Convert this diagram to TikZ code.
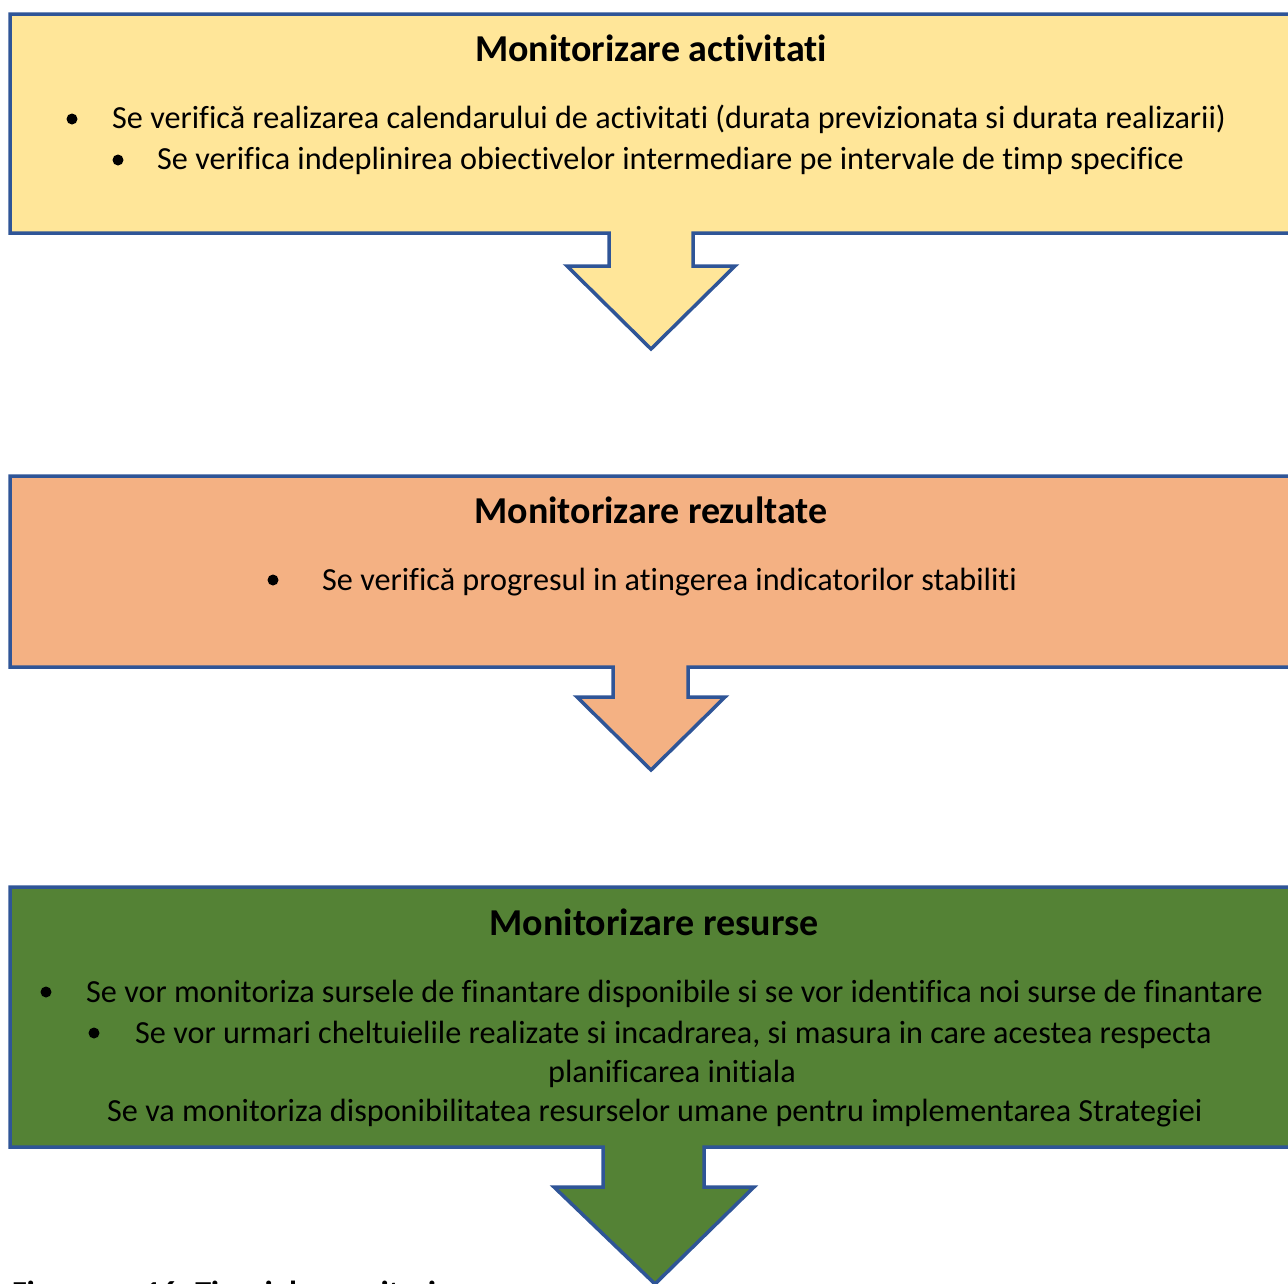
\documentclass[tikz,border=0pt]{standalone}
\usepackage{fontspec}
\setmainfont{Carlito}[Ligatures=NoCommon]
\definecolor{edge}{HTML}{2F5597}
\definecolor{yel}{HTML}{FFE699}
\definecolor{sal}{HTML}{F4B183}
\definecolor{grn}{HTML}{548235}
\begin{document}
\begin{tikzpicture}[x=1pt,y=-1pt,
  panel/.style={draw=edge,line width=3.5pt,line join=miter},
  ttl/.style={anchor=base,inner sep=0pt,font=\fontsize{38}{45}\selectfont\bfseries},
  txt/.style={anchor=base west,inner sep=0pt,font=\fontsize{32.2}{41}\selectfont},
  ctxt/.style={anchor=base,inner sep=0pt,font=\fontsize{32.2}{41}\selectfont},
  dot/.style={fill=black}]
\useasboundingbox (0,0) rectangle (1288,1283);
\clip (0,0) rectangle (1288,1283);
% box 1 with arrow
\path[panel,fill=yel] (10,14) -- (1300,14) -- (1300,233) -- (693,233) -- (693,266) -- (735,266)
  -- (651,349) -- (567,266) -- (609,266) -- (609,233) -- (10,233) -- cycle;
\node[ttl] (t1) at (651,61) {Monitorizare activitati};
\fill[dot] (72,119) circle (5.5);
\node[txt] (a1) at (112,128) {Se verifică realizarea calendarului de activitati (durata previzionata si durata realizarii)};
\fill[dot] (118,160) circle (5.5);
\node[txt] (a2) at (157,169) {Se verifica indeplinirea obiectivelor intermediare pe intervale de timp specifice};
% box 2 with arrow
\path[panel,fill=sal] (10,476) -- (1300,476) -- (1300,667) -- (688,667) -- (688,697) -- (725,697)
  -- (651,770) -- (577,697) -- (613,697) -- (613,667) -- (10,667) -- cycle;
\node[ttl] (t2) at (651,523) {Monitorizare rezultate};
\fill[dot] (273,580) circle (5.5);
\node[txt] (b1) at (322,590) {Se verifică progresul in atingerea indicatorilor stabiliti};
% box 3 with arrow
\path[panel,fill=grn] (10,887) -- (1300,887) -- (1300,1147) -- (704,1147) -- (704,1187) -- (754,1187)
  -- (655,1284) -- (554,1187) -- (603,1187) -- (603,1147) -- (10,1147) -- cycle;
\node[ttl] (t3) at (654,935) {Monitorizare resurse};
\fill[dot] (46,992) circle (5.5);
\node[txt] (c1) at (86,1002) {Se vor monitoriza sursele de finantare disponibile si se vor identifica noi surse de finantare};
\fill[dot] (94,1033) circle (5.5);
\node[txt] (c2) at (135,1043) {Se vor urmari cheltuielile realizate si incadrarea, si masura in care acestea respecta};
\node[ctxt] (c3) at (672,1082) {planificarea initiala};
\node[txt] (c4) at (107,1121) {Se va monitoriza disponibilitatea resurselor umane pentru implementarea Strategiei};
% caption (cut off at the bottom, as in the reference)
\node[anchor=base west,inner sep=0pt,font=\fontsize{32}{41}\selectfont\bfseries] (cap) at (12,1303) {Figura nr. 16. Tipuri de monitorizare};
\end{tikzpicture}
\end{document}
